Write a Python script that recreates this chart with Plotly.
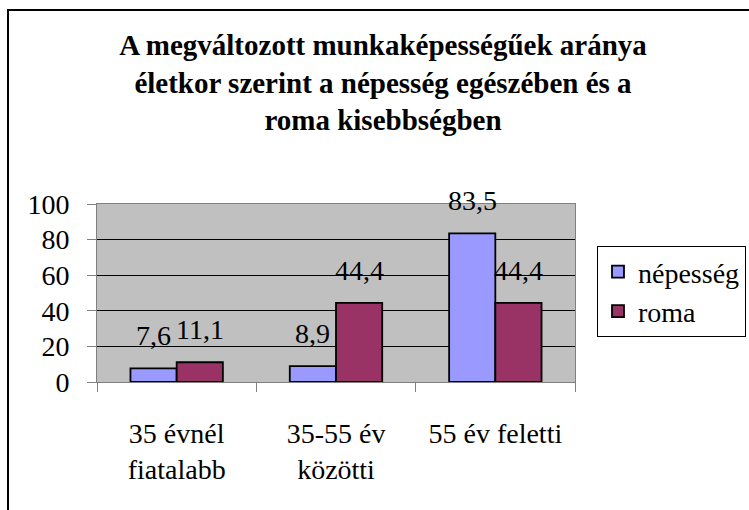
import plotly.graph_objects as go

categories = ["35 évnél<br>fiatalabb", "35-55 év<br>közötti", "55 év feletti"]
series_names = ["népesség", "roma"]
nepesseg = [7.6, 8.9, 83.5]
roma = [11.1, 44.4, 44.4]
y_ticks = [0, 20, 40, 60, 80, 100]
title_text = ("A megváltozott munkaképességűek aránya<br>"
              "életkor szerint a népesség egészében és a<br>"
              "roma kisebbségben")

FONT = "Liberation Serif"
BAR_COLORS = ["#9999FF", "#993366"]
BARGAP = 0.42

fig = go.Figure()
for name, vals, col in zip(series_names, [nepesseg, roma], BAR_COLORS):
    fig.add_trace(go.Bar(
        x=categories, y=vals, name=name,
        marker=dict(color=col, line=dict(color="black", width=1.8)),
    ))

# value labels above bars (comma decimal separator)
bar_w = (1 - BARGAP) / 2
for s, vals in enumerate([nepesseg, roma]):
    off = (s - 0.5) * bar_w
    for i, v in enumerate(vals):
        fig.add_annotation(
            x=i + off, y=v, xref="x", yref="y",
            text=f"{v:.1f}".replace(".", ","),
            showarrow=False, yanchor="bottom", yshift=15,
            font=dict(family=FONT, size=28, color="black"),
        )

# outer chart border (only left/top visible in the frame)
fig.add_shape(type="rect", xref="paper", yref="paper",
              x0=(8 - 97) / 478, x1=(760 - 97) / 478,
              y0=(382 - 520) / 178, y1=(382 - 10) / 178,
              line=dict(color="black", width=2), fillcolor="rgba(0,0,0,0)",
              layer="below")

fig.update_layout(
    width=749, height=510,
    margin=dict(l=97, r=174, t=204, b=128, pad=0, autoexpand=False),
    paper_bgcolor="white", plot_bgcolor="#C0C0C0",
    barmode="group", bargap=BARGAP, bargroupgap=0,
    font=dict(family=FONT, size=28, color="black"),
    title=dict(
        text=title_text, x=(383) / 749, xanchor="center",
        y=1 - 55 / 510, yanchor="top", yref="container",
        font=dict(family=FONT, size=29, color="black", weight="bold"),
    ),
    legend=dict(
        x=(597 - 97) / 478, y=(382 - 246) / 178, xanchor="left", yanchor="top",
        bgcolor="white", bordercolor="black", borderwidth=1,
        font=dict(family=FONT, size=28, color="black"),
    ),
    showlegend=True,
)
fig.update_xaxes(
    showline=True, linecolor="#808080", linewidth=1, mirror=True,
    ticks="outside", ticklen=9, tickcolor="#808080", tickson="boundaries",
    showgrid=False, ticklabelstandoff=26,
    tickfont=dict(family=FONT, size=28, color="black"),
)
fig.update_yaxes(
    range=[0, 100], tickvals=y_ticks, ticktext=[str(t) for t in y_ticks],
    showline=True, linecolor="#808080", linewidth=1, mirror=True,
    ticks="outside", ticklen=9, tickcolor="#808080",
    showgrid=True, gridcolor="black", gridwidth=1, zeroline=False,
    ticklabelstandoff=12,
    tickfont=dict(family=FONT, size=28, color="black"),
)

fig.write_html("out.html",
               config={"displayModeBar": False},
               post_script="document.body.style.margin='0';")
